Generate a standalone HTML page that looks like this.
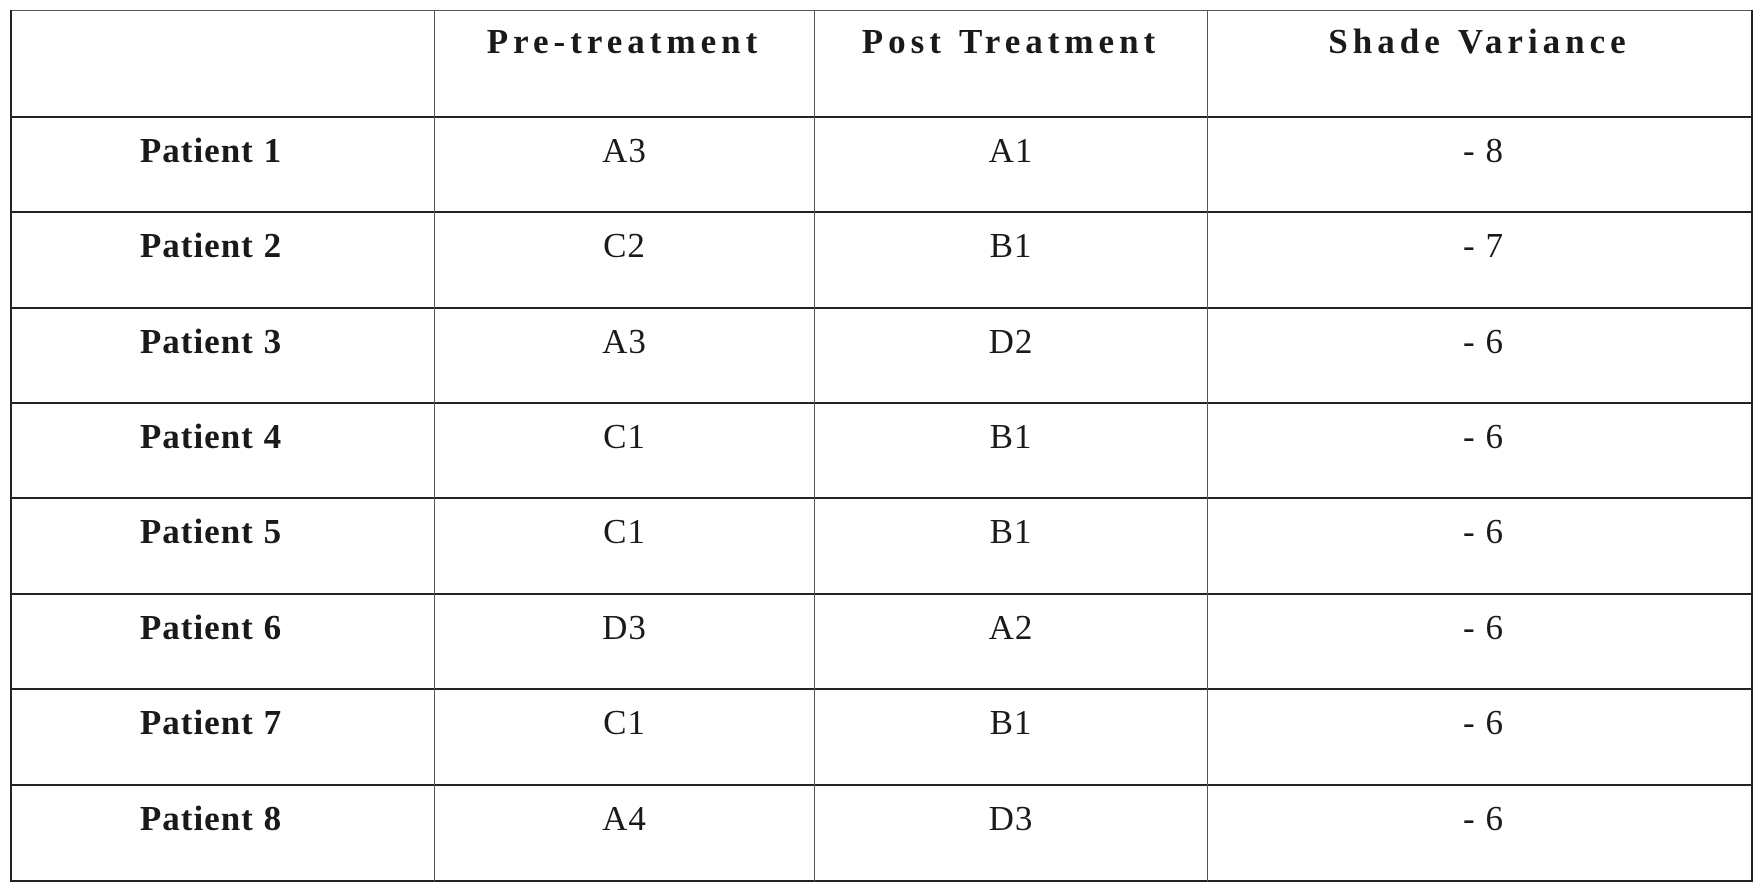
<!DOCTYPE html>
<html><head><style>
body{margin:0;width:1761px;height:896px;background:#fff;position:relative;overflow:hidden;font-family:"Liberation Serif",serif;color:#1a1a1a}
.h{position:absolute;background:#222}
.t{position:absolute;text-align:center;font-size:35px;line-height:36px;letter-spacing:1px}
.b{font-weight:bold}
.hd{letter-spacing:5px}
.p{left:0px;width:422px}
</style></head><body>
<div class="h" style="left:10px;top:10px;width:1743px;height:1px;background:#555"></div>
<div class="h" style="left:10px;top:116px;width:1743px;height:2px"></div>
<div class="h" style="left:10px;top:211px;width:1743px;height:2px"></div>
<div class="h" style="left:10px;top:307px;width:1743px;height:2px"></div>
<div class="h" style="left:10px;top:402px;width:1743px;height:2px"></div>
<div class="h" style="left:10px;top:497px;width:1743px;height:2px"></div>
<div class="h" style="left:10px;top:593px;width:1743px;height:2px"></div>
<div class="h" style="left:10px;top:688px;width:1743px;height:2px"></div>
<div class="h" style="left:10px;top:784px;width:1743px;height:2px"></div>
<div class="h" style="left:10px;top:880px;width:1743px;height:2px"></div>
<div class="h" style="left:10px;top:10px;width:2px;height:872px"></div>
<div class="h" style="left:434px;top:10px;width:1px;height:872px;background:#555"></div>
<div class="h" style="left:814px;top:10px;width:1px;height:872px;background:#555"></div>
<div class="h" style="left:1207px;top:10px;width:1px;height:872px;background:#555"></div>
<div class="h" style="left:1751px;top:10px;width:2px;height:872px"></div>

<div class="t b hd" style="left:435px;width:379px;top:24px">Pre-treatment</div>
<div class="t b hd" style="left:815px;width:392px;top:24px">Post Treatment</div>
<div class="t b hd" style="left:1208px;width:543px;top:24px">Shade Variance</div>

<div class="t b p" style="top:133px">Patient 1</div>
<div class="t" style="left:435px;width:379px;top:133px">A3</div>
<div class="t" style="left:815px;width:392px;top:133px">A1</div>
<div class="t" style="left:1212px;width:543px;top:133px">- 8</div>

<div class="t b p" style="top:228px">Patient 2</div>
<div class="t" style="left:435px;width:379px;top:228px">C2</div>
<div class="t" style="left:815px;width:392px;top:228px">B1</div>
<div class="t" style="left:1212px;width:543px;top:228px">- 7</div>

<div class="t b p" style="top:324px">Patient 3</div>
<div class="t" style="left:435px;width:379px;top:324px">A3</div>
<div class="t" style="left:815px;width:392px;top:324px">D2</div>
<div class="t" style="left:1212px;width:543px;top:324px">- 6</div>

<div class="t b p" style="top:419px">Patient 4</div>
<div class="t" style="left:435px;width:379px;top:419px">C1</div>
<div class="t" style="left:815px;width:392px;top:419px">B1</div>
<div class="t" style="left:1212px;width:543px;top:419px">- 6</div>

<div class="t b p" style="top:514px">Patient 5</div>
<div class="t" style="left:435px;width:379px;top:514px">C1</div>
<div class="t" style="left:815px;width:392px;top:514px">B1</div>
<div class="t" style="left:1212px;width:543px;top:514px">- 6</div>

<div class="t b p" style="top:610px">Patient 6</div>
<div class="t" style="left:435px;width:379px;top:610px">D3</div>
<div class="t" style="left:815px;width:392px;top:610px">A2</div>
<div class="t" style="left:1212px;width:543px;top:610px">- 6</div>

<div class="t b p" style="top:705px">Patient 7</div>
<div class="t" style="left:435px;width:379px;top:705px">C1</div>
<div class="t" style="left:815px;width:392px;top:705px">B1</div>
<div class="t" style="left:1212px;width:543px;top:705px">- 6</div>

<div class="t b p" style="top:801px">Patient 8</div>
<div class="t" style="left:435px;width:379px;top:801px">A4</div>
<div class="t" style="left:815px;width:392px;top:801px">D3</div>
<div class="t" style="left:1212px;width:543px;top:801px">- 6</div>
</body></html>
